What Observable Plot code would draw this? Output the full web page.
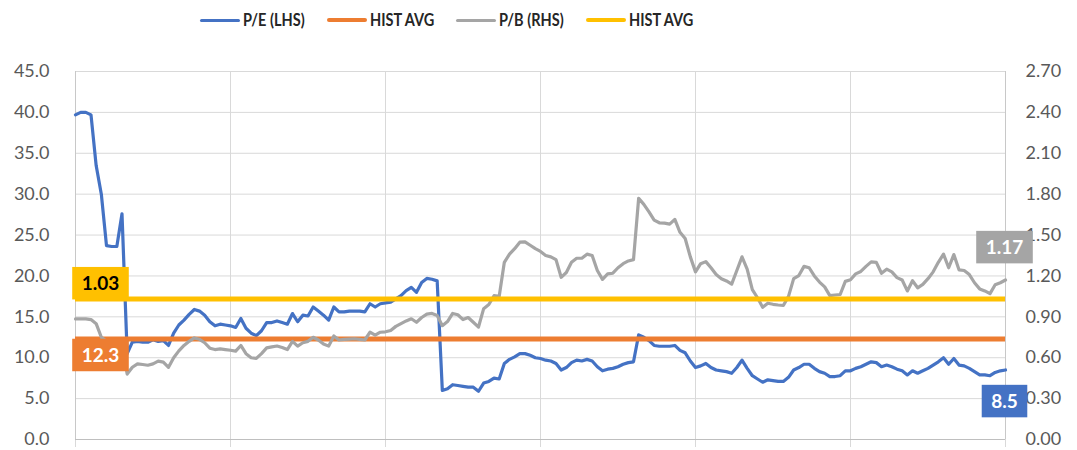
<!DOCTYPE html>
<html>
<head>
<meta charset="utf-8">
<script src="https://cdn.jsdelivr.net/npm/d3@7"></script>
<script src="https://cdn.jsdelivr.net/npm/@observablehq/plot@0.6"></script>
<style>
  body { margin: 0; background: #fff; font-family: Lato, "Open Sans", sans-serif; }
  #wrap { position: relative; width: 1077px; height: 450px; overflow: hidden; }
  #legend { height: 40px; width: 1077px; position: relative; }
  #legend .items { position: absolute; left: 200px; top: 9px; display: flex; align-items: center; height: 22px; }
  #legend .sw { width: 40px; border-radius: 3px; margin-right: 3px; flex: none; }
  #legend .lab { display: inline-block; margin-right: 22px; white-space: nowrap; overflow: visible; flex: none; }
  #legend .lab span { display: inline-block; font-weight: 700; font-size: 16.5px; color: #262626; transform-origin: 0 50%; }
  #chart svg { display: block; }
</style>
</head>
<body>
<div id="wrap">
  <div id="legend"><div class="items"></div></div>
  <div id="chart"></div>
</div>
<script>
// ---------------- data ----------------
const seriesNames = ["P/E (LHS)", "HIST AVG", "P/B (RHS)", "HIST AVG"];
const seriesColors = ["#4472C4", "#ED7D31", "#A5A5A5", "#FFC000"];

const peValues = [
  39.7, 40.0, 40.0, 39.7, 33.5, 30.0, 23.7, 23.6, 23.6, 27.6,
  10.5, 11.9, 12.0, 11.9, 11.9, 12.2, 12.0, 12.1, 11.5, 13.0,
  14.0, 14.6, 15.3, 15.9, 15.7, 15.2, 14.4, 13.9, 14.1, 14.0,
  13.9, 13.7, 14.8, 13.6, 13.0, 12.7, 13.3, 14.3, 14.3, 14.5,
  14.3, 14.1, 15.4, 14.4, 15.2, 15.1, 16.2, 15.7, 15.2, 14.6,
  16.2, 15.6, 15.6, 15.7, 15.7, 15.7, 15.6, 16.6, 16.2, 16.6,
  16.7, 16.8, 17.2, 17.6, 18.2, 18.6, 18.0, 19.2, 19.7, 19.6,
  19.4, 6.0, 6.2, 6.7, 6.6, 6.5, 6.4, 6.4, 5.9, 6.9,
  7.1, 7.5, 7.4, 9.3, 9.8, 10.1, 10.5, 10.5, 10.3, 10.0,
  9.9, 9.7, 9.6, 9.3, 8.5, 8.8, 9.4, 9.7, 9.6, 9.8,
  9.6, 8.9, 8.4, 8.6, 8.7, 8.9, 9.2, 9.4, 9.5, 12.8,
  12.5, 12.1, 11.5, 11.4, 11.4, 11.4, 11.5, 10.9, 10.6, 9.6,
  8.8, 9.0, 9.3, 8.8, 8.5, 8.4, 8.3, 8.1, 8.8, 9.7,
  8.7, 7.8, 7.4, 7.0, 7.3, 7.2, 7.1, 7.1, 7.6, 8.5,
  8.8, 9.2, 9.2, 8.7, 8.3, 8.1, 7.7, 7.7, 7.8, 8.4,
  8.4, 8.7, 8.9, 9.2, 9.5, 9.4, 8.9, 9.1, 8.9, 8.6,
  8.4, 7.9, 8.4, 8.1, 8.4, 8.7, 9.1, 9.5, 10.0, 9.2,
  9.9, 9.1, 9.0, 8.7, 8.3, 7.9, 7.9, 7.8, 8.2, 8.4, 8.5
];

const pbValues = [
  0.885, 0.885, 0.885, 0.88, 0.85, 0.75, 0.72, 0.71, 0.70, 0.70,
  0.48, 0.53, 0.555, 0.55, 0.545, 0.555, 0.575, 0.568, 0.53, 0.60,
  0.65, 0.69, 0.72, 0.745, 0.735, 0.71, 0.67, 0.66, 0.665, 0.66,
  0.655, 0.648, 0.69, 0.63, 0.60, 0.595, 0.63, 0.672, 0.68, 0.686,
  0.675, 0.66, 0.72, 0.685, 0.71, 0.72, 0.75, 0.73, 0.70, 0.685,
  0.76, 0.73, 0.735, 0.737, 0.739, 0.735, 0.73, 0.787, 0.765, 0.787,
  0.79, 0.80, 0.83, 0.85, 0.87, 0.886, 0.86, 0.895, 0.92, 0.925,
  0.91, 0.835, 0.865, 0.925, 0.915, 0.88, 0.895, 0.86, 0.825, 0.96,
  0.99, 1.055, 1.05, 1.30, 1.36, 1.40, 1.448, 1.45, 1.425, 1.40,
  1.38, 1.35, 1.34, 1.32, 1.19, 1.225, 1.30, 1.33, 1.33, 1.36,
  1.35, 1.24, 1.175, 1.215, 1.22, 1.26, 1.29, 1.31, 1.32, 1.77,
  1.725, 1.67, 1.61, 1.59, 1.588, 1.58, 1.615, 1.52, 1.475, 1.34,
  1.23, 1.29, 1.305, 1.26, 1.21, 1.18, 1.163, 1.14, 1.24, 1.34,
  1.25, 1.10, 1.04, 0.97, 1.0, 0.992, 0.987, 0.983, 1.05, 1.18,
  1.203, 1.27, 1.26, 1.20, 1.155, 1.12, 1.056, 1.06, 1.064, 1.16,
  1.172, 1.215, 1.233, 1.27, 1.303, 1.30, 1.22, 1.25, 1.23, 1.188,
  1.17, 1.09, 1.165, 1.113, 1.138, 1.18, 1.23, 1.30, 1.36, 1.26,
  1.357, 1.245, 1.24, 1.21, 1.15, 1.105, 1.09, 1.07, 1.135, 1.15, 1.17
];

const peHistAvg = 12.3;
const pbHistAvg = 1.03;

const leftTicks = [0, 5, 10, 15, 20, 25, 30, 35, 40, 45];
const rightTicks = [0, 0.3, 0.6, 0.9, 1.2, 1.5, 1.8, 2.1, 2.4, 2.7];
const xGridTicks = [0, 30, 60, 90, 120, 150, 180];

// ---------------- legend ----------------
const items = document.querySelector("#legend .items");
const squeeze = 0.88;
seriesNames.forEach((name, i) => {
  const sw = document.createElement("span");
  sw.className = "sw";
  sw.style.background = seriesColors[i];
  sw.style.height = (i % 2 === 0 ? 3 : 4) + "px";
  const lab = document.createElement("span");
  lab.className = "lab";
  const inner = document.createElement("span");
  inner.textContent = name;
  lab.appendChild(inner);
  items.appendChild(sw);
  items.appendChild(lab);
  const w = inner.getBoundingClientRect().width;
  inner.style.transform = `scaleX(${squeeze})`;
  lab.style.width = (w * squeeze) + "px";
});

// ---------------- chart ----------------
const leftMax = leftTicks[leftTicks.length - 1];
const rightMax = rightTicks[rightTicks.length - 1];
const k = leftMax / rightMax; // right-axis value -> left-axis units
const nLast = peValues.length - 1;

// data labels: value, position (index), y in left units, offsets, colours
const labels = [
  { text: pbHistAvg.toFixed(2), x: 0, y: pbHistAvg * k, dx: 25, dy: -15, fill: "#000", bg: seriesColors[3] },
  { text: peHistAvg.toFixed(1), x: 0, y: peHistAvg, dx: 25, dy: 17, fill: "#fff", bg: seriesColors[1] },
  { text: pbValues[nLast].toFixed(2), x: nLast, y: pbValues[nLast] * k, dx: -1, dy: -32, fill: "#fff", bg: seriesColors[2] },
  { text: peValues[nLast].toFixed(1), x: nLast, y: peValues[nLast], dx: -1, dy: 32, fill: "#fff", bg: seriesColors[0] }
];

const chart = Plot.plot({
  width: 1077,
  height: 410,
  marginTop: 31,
  marginBottom: 11,
  marginLeft: 75,
  marginRight: 72,
  style: { fontFamily: "Lato, 'Open Sans', sans-serif", fontSize: "18px", background: "#fff" },
  x: { domain: [0, nLast], axis: null },
  y: { domain: [0, leftMax], axis: null },
  marks: [
    Plot.gridY(leftTicks, { stroke: "#d9d9d9", strokeOpacity: 1, strokeWidth: 1 }),
    Plot.gridX(xGridTicks, { stroke: "#d9d9d9", strokeOpacity: 1, strokeWidth: 1 }),
    Plot.axisX({ ticks: xGridTicks, tickSize: 8, tickFormat: () => "", stroke: "#d9d9d9", label: null }),
    Plot.ruleY([0], { stroke: "#bfbfbf", strokeWidth: 1 }),
    Plot.ruleX([0, nLast], { stroke: "#c8c8c8", strokeWidth: 1 }),
    Plot.axisY({ ticks: leftTicks, tickSize: 0, tickPadding: 26, tickFormat: d => d.toFixed(1),
                 color: "#595959", fontSize: 18, label: null }),
    Plot.axisY({ anchor: "right", ticks: rightTicks.map(t => t * k), tickSize: 0, tickPadding: 20,
                 tickFormat: d => (d / k).toFixed(2), color: "#595959", fontSize: 18, label: null }),
    Plot.lineY(peValues, { stroke: seriesColors[0], strokeWidth: 3.2, strokeLinejoin: "round", strokeLinecap: "round" }),
    Plot.ruleY([peHistAvg], { stroke: seriesColors[1], strokeWidth: 5 }),
    Plot.lineY(pbValues, { y: d => d * k, stroke: seriesColors[2], strokeWidth: 3.2, strokeLinejoin: "round", strokeLinecap: "round" }),
    Plot.ruleY([pbHistAvg * k], { stroke: seriesColors[3], strokeWidth: 5 }),
    ...labels.map(l => Plot.text([l], { x: "x", y: "y", text: "text", dx: l.dx, dy: l.dy,
                             fill: l.fill, fontWeight: "bold", fontSize: 19 }))
  ]
});

document.getElementById("chart").appendChild(chart);

// label background boxes (drawn behind each label text)
const ns = "http://www.w3.org/2000/svg";
const allText = Array.from(chart.querySelectorAll("text"));
labels.forEach(l => {
  const t = allText.find(el => el.textContent === l.text && el.getAttribute("font-weight") === "bold")
         || allText.filter(el => el.textContent === l.text).pop();
  if (!t) return;
  const b = t.getBBox();
  const padX = 9.5, h = 32.5;
  const r = document.createElementNS(ns, "rect");
  r.setAttribute("x", b.x - padX);
  r.setAttribute("y", b.y + b.height / 2 - h / 2 + 0.5);
  r.setAttribute("width", b.width + 2 * padX);
  r.setAttribute("height", h);
  r.setAttribute("fill", l.bg);
  if (t.getAttribute("transform")) r.setAttribute("transform", t.getAttribute("transform"));
  t.parentNode.insertBefore(r, t);
});
</script>
</body>
</html>
